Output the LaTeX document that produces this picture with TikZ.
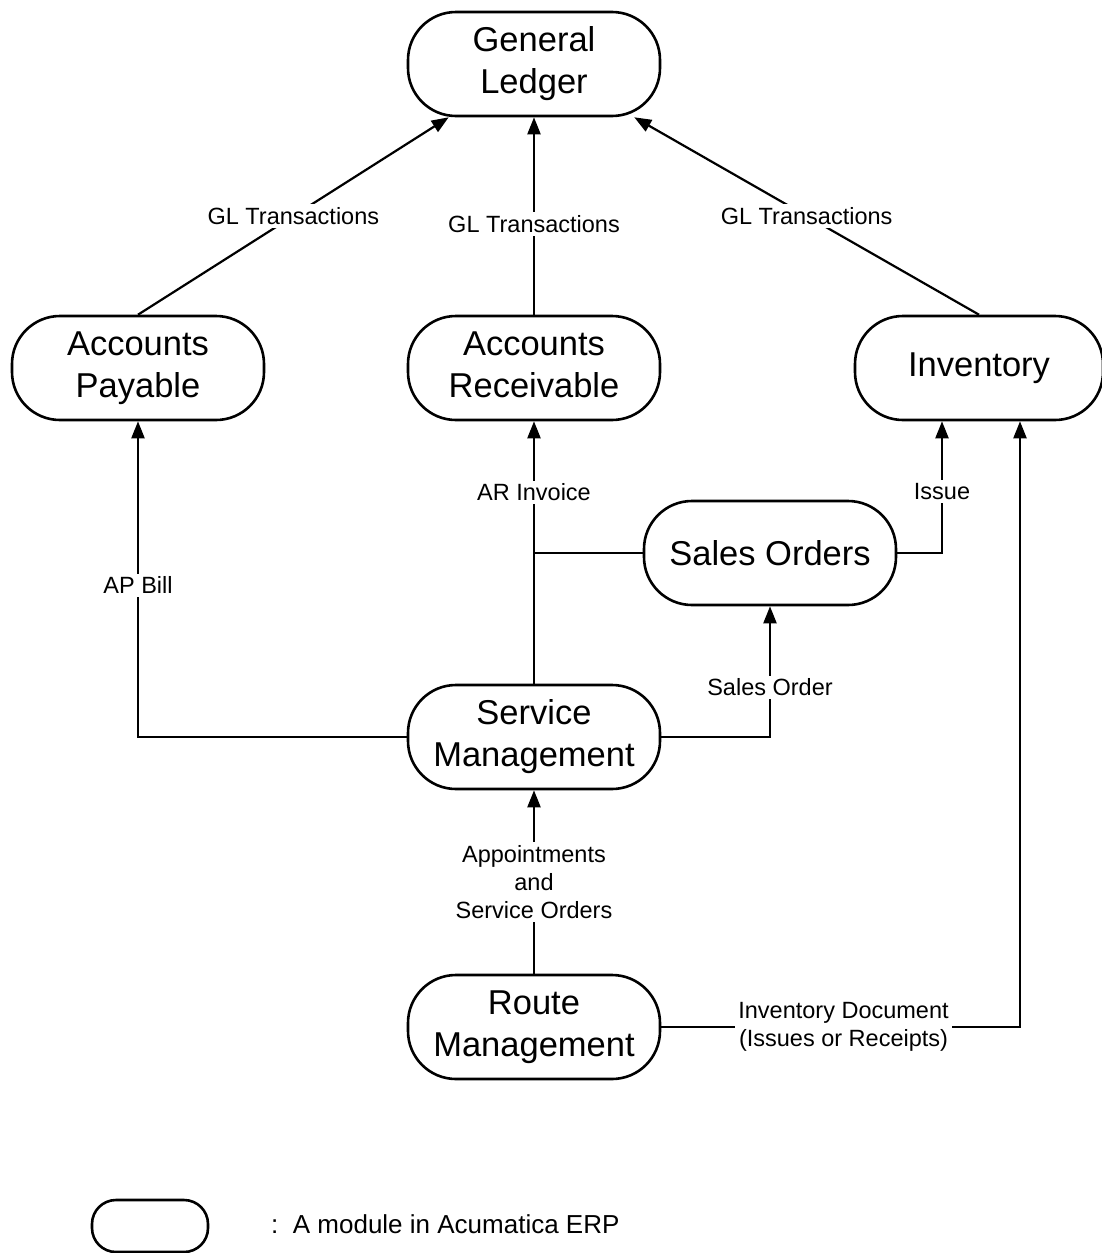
\documentclass[tikz,border=0pt]{standalone}
\usepackage{fontspec}
\setmainfont{Liberation Sans}
\usetikzlibrary{arrows.meta}

\tikzset{
    module/.style={draw, line width=2.6pt, rounded corners=48pt, minimum width=252pt,
        minimum height=104pt, inner sep=0pt, align=center,
        font=\fontsize{34.5}{42}\selectfont},
    arr/.style={line width=2.2pt, -{Triangle[length=17pt,width=13pt]}},
    link/.style={line width=2.2pt},
    lbl/.style={fill=white, inner sep=3pt, align=center,
        font=\fontsize{23.5}{28}\selectfont}
}

\begin{document}
\begin{tikzpicture}[x=1pt,y=-1pt]
\useasboundingbox (0,0) rectangle (1102,1253);

% modules
\node[module] (GL) at (534,64) {General\\Ledger};
\node[module] (AP) at (138,368) {Accounts\\Payable};
\node[module] (AR) at (534,368) {Accounts\\Receivable\vphantom{y}};
\node[module, minimum width=248pt] (Inv) at (979,368) {Inventory};
\node[module] (SO) at (770,553) {Sales Orders};
\node[module] (SM) at (534,737) {Service\\Management};
\node[module] (RM) at (534,1027) {Route\\Management};

% GL postings
\draw[arr] (AP.north) -- node[lbl]{GL Transactions} (GL.-148);
\draw[arr] (AR.north) -- node[lbl, pos=0.46]{GL Transactions} (GL.south);
\draw[arr] (Inv.north) -- node[lbl]{GL Transactions} (GL.-28);

% documents from service management
\draw[arr] (SM.west) -| node[lbl, pos=0.74]{AP Bill} (AP.south);
\draw[arr] (SM.north) -- node[lbl, pos=0.73]{AR Invoice} (AR.south);
\draw[link] (SO.west) -- (SO.west -| SM.north);
\draw[arr] (SM.east) -| node[lbl, pos=0.69]{Sales Order} (SO.south);
\draw[arr] (SO.east) -| node[lbl, pos=0.733]{Issue} ([xshift=-37pt]Inv.south);

% route management
\draw[arr] (RM.north) -- node[lbl]{Appointments\\and\\Service Orders} (SM.south);
\draw[arr] (RM.east) -| node[lbl, pos=0.254]{Inventory Document\\(Issues or Receipts)} ([xshift=41pt]Inv.south);

% legend
\node[module, minimum width=116pt, minimum height=52pt, rounded corners=24pt] (key) at (150,1226) {};
\node[anchor=west, inner sep=0pt, font=\fontsize{26}{28}\selectfont] (keytxt) at (271,1224) {:\ \ A module in Acumatica ERP};

\end{tikzpicture}
\end{document}
